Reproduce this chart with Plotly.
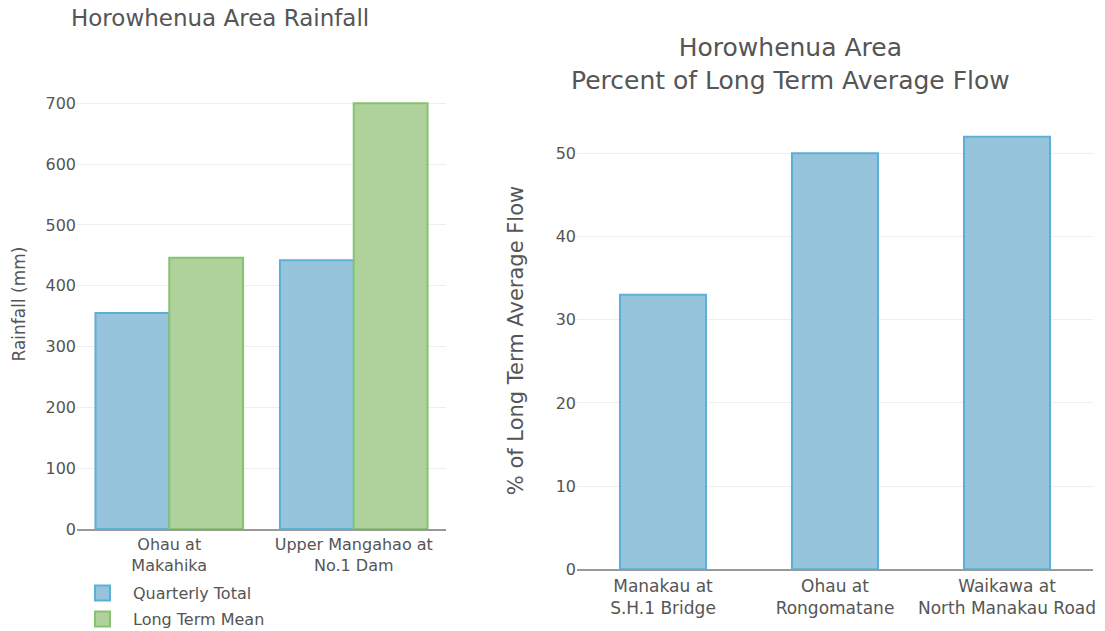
import plotly.graph_objects as go

# ---- data ----
rain_sites = ["Ohau at<br>Makahika", "Upper Mangahao at<br>No.1 Dam"]
rain_quarterly = [355, 442]
rain_longterm = [446, 700]

flow_sites = ["Manakau at<br>S.H.1 Bridge", "Ohau at<br>Rongomatane", "Waikawa at<br>North Manakau Road"]
flow_percent = [33, 50, 52]

rain_ticks = [0, 100, 200, 300, 400, 500, 600, 700]
flow_ticks = [0, 10, 20, 30, 40, 50]

series_names = ["Quarterly Total", "Long Term Mean"]

# ---- style ----
FONT = "DejaVu Sans"
TXT = "#555555"
BLUE_FILL = "#96c4dc"
BLUE_LINE = "#5cb0d6"
GREEN_FILL = "#afd19c"
GREEN_LINE = "#87c36e"
GRID = "#eeeeee"
AXLINE = "#999999"

fig = go.Figure()

fig.add_trace(go.Bar(
    x=rain_sites, y=rain_quarterly, name=series_names[0],
    marker=dict(color=BLUE_FILL, line=dict(color=BLUE_LINE, width=2)),
    xaxis="x", yaxis="y", showlegend=False,
))
fig.add_trace(go.Bar(
    x=rain_sites, y=rain_longterm, name=series_names[1],
    marker=dict(color=GREEN_FILL, line=dict(color=GREEN_LINE, width=2)),
    xaxis="x", yaxis="y", showlegend=False,
))
fig.add_trace(go.Bar(
    x=flow_sites, y=flow_percent, name="% of Long Term Average Flow",
    marker=dict(color=BLUE_FILL, line=dict(color=BLUE_LINE, width=2)),
    xaxis="x2", yaxis="y2", showlegend=False, width=0.5,
))

W, H = 1105, 631

def px(x):
    return x / W

def py(y):
    return 1 - y / H

# legend drawn as swatches + labels below the left chart
legend_items = [(series_names[0], BLUE_FILL, BLUE_LINE, 593),
                (series_names[1], GREEN_FILL, GREEN_LINE, 619)]
shapes = []
annotations = []
for name, fill, line, yc in legend_items:
    shapes.append(dict(type="rect", xref="paper", yref="paper",
                       x0=px(95), x1=px(110), y0=py(yc + 7.5), y1=py(yc - 7.5),
                       fillcolor=fill, line=dict(color=line, width=2)))
    annotations.append(dict(text=name, x=px(131), y=py(yc), xref="paper", yref="paper",
                            showarrow=False, xanchor="left", yanchor="middle",
                            font=dict(size=16, color=TXT)))

annotations += [
    dict(text="Horowhenua Area Rainfall", x=px(220), y=py(18),
         xref="paper", yref="paper", showarrow=False,
         xanchor="center", yanchor="middle", font=dict(size=23, color=TXT)),
    dict(text="Horowhenua Area<br>Percent of Long Term Average Flow",
         x=px(790), y=py(64), xref="paper", yref="paper", showarrow=False,
         xanchor="center", yanchor="middle", font=dict(size=25, color=TXT)),
]

fig.update_layout(
    width=W, height=H, autosize=False,
    margin=dict(l=0, r=0, t=0, b=0, pad=0, autoexpand=False),
    paper_bgcolor="white", plot_bgcolor="white",
    font=dict(family=FONT, color=TXT, size=16),
    showlegend=False,
    barmode="group", bargap=0.2, bargroupgap=0,
    xaxis=dict(domain=[px(77), px(446)], anchor="y", showgrid=False,
               showline=True, linecolor=AXLINE, linewidth=2, ticks="",
               tickfont=dict(size=16), automargin=False),
    yaxis=dict(domain=[py(529), py(79)], anchor="x", range=[0, 740],
               tickvals=rain_ticks, gridcolor=GRID, gridwidth=1,
               zeroline=False, showline=False, ticks="",
               tickfont=dict(size=16), automargin=False,
               title=dict(text="Rainfall (mm)", font=dict(size=17), standoff=15)),
    xaxis2=dict(domain=[px(577), px(1093)], anchor="y2", showgrid=False,
                showline=True, linecolor=AXLINE, linewidth=2, ticks="",
                tickfont=dict(size=17), automargin=False),
    yaxis2=dict(domain=[py(569.3), py(111.7)], anchor="x2", range=[0, 55],
                tickvals=flow_ticks, gridcolor=GRID, gridwidth=1,
                zeroline=False, showline=False, ticks="",
                tickfont=dict(size=16), automargin=False,
                title=dict(text="% of Long Term Average Flow", font=dict(size=21), standoff=26)),
    shapes=shapes,
    annotations=annotations,
)

fig.write_html("out.html", config={"displayModeBar": False, "responsive": False},
               post_script="document.body.style.margin='0px';")
